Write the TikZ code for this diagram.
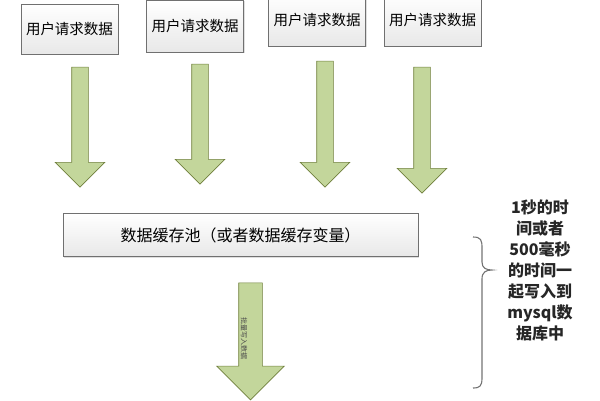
\documentclass[tikz,border=0pt]{standalone}
\usepackage{fontspec}
\setmainfont{Noto Sans CJK SC}
\usepackage{tikz}
\usetikzlibrary{shapes.arrows,shadows}
\definecolor{arrowfill}{HTML}{C3D69B}
\definecolor{arrowline}{HTML}{6F7F3C}
\definecolor{boxline}{HTML}{707070}

\begin{document}
\begin{tikzpicture}[x=1pt, y=-1pt,
  box/.style={draw=boxline, line width=0.9pt, top color=white, bottom color=black!9,
    minimum width=97pt, inner sep=0pt, font=\fontsize{14.5}{16}\selectfont,
    drop shadow={shadow xshift=1.2pt, shadow yshift=-1.2pt, opacity=.25}},
  flow/.style={single arrow, shape border rotate=270, draw=arrowline, line width=0.6pt,
    fill=arrowfill, inner sep=8pt, single arrow head extend=16.5pt,
    minimum height=#1},
  note/.style={align=center, font=\fontsize{16}{21}\selectfont\bfseries, text=black!85}]
\useasboundingbox (0,0) rectangle (600,400);
% requests
\node[box, minimum height=50pt] (r1) at (69.5,29) {用户请求数据};
\node[box, minimum height=52pt] (r2) at (195,26) {用户请求数据};
\node[box, minimum height=52pt] (r3) at (317,20) {用户请求数据};
\node[box, minimum height=52pt] (r4) at (432.5,20) {用户请求数据};
% block arrows into the pool
\node[flow=120pt] (f1) at (80,123) {};
\node[flow=120pt] (f2) at (200,120) {};
\node[flow=126pt] (f3) at (325,120) {};
\node[flow=126pt] (f4) at (422,126) {};
\node[box, minimum width=355pt, minimum height=43pt, font=\fontsize{16}{18}\selectfont] (pool) at (240.5,235) {数据缓存池（或者数据缓存变量）};
\node[flow=117pt, inner sep=11.5pt, single arrow head extend=22pt] (w) at (250.5,335.5) {};
\node[rotate=-90, font=\fontsize{7}{8}\selectfont, text=black!70] (wl) at (244,338) {批量写入数据};
% brace + note
\draw[black!55, line width=1.1pt] (473,237) .. controls (481,237) and (482,240) .. (482,248)
  -- (482,262) .. controls (482,268) and (486,270) .. (492,270)
  .. controls (486,270) and (482,272) .. (482,279)
  -- (482,378) .. controls (482,386) and (480,388) .. (473,388);
\node[note] (n) at (540,270.5) {1秒的时\\间或者\\500毫秒\\的时间一\\起写入到\\mysql数\\据库中};
\end{tikzpicture}
\end{document}
